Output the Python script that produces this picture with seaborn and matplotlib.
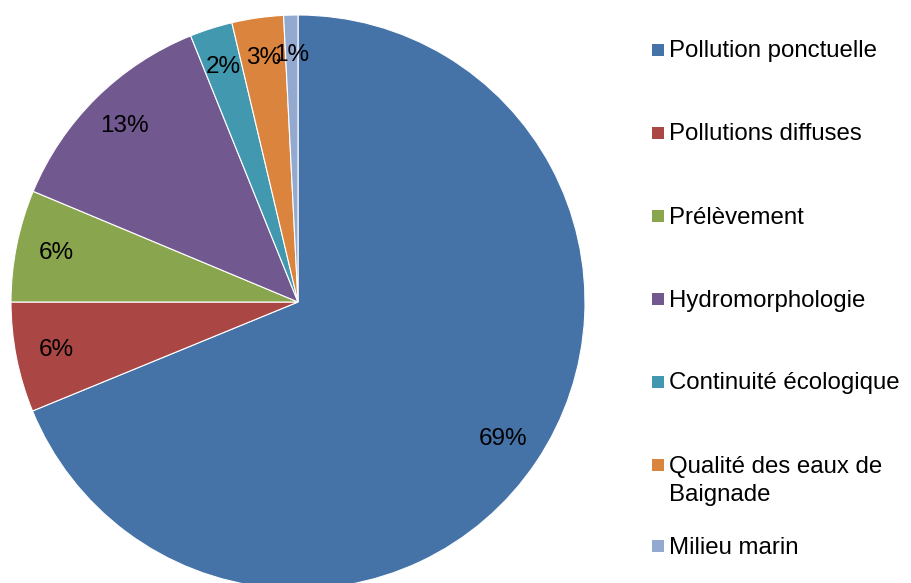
import matplotlib
matplotlib.use("Agg")
import matplotlib.pyplot as plt
import seaborn as sns
from matplotlib.patches import Rectangle

categories = ["Pollution ponctuelle", "Pollutions diffuses", "Prélèvement",
              "Hydromorphologie", "Continuité écologique",
              "Qualité des eaux de\nBaignade", "Milieu marin"]
shares = [68.8, 6.2, 6.3, 12.6, 2.4, 2.9, 0.8]
colors = ["#4572A7", "#AA4643", "#89A54E", "#71588F", "#4198AF", "#DB843D", "#93A9CF"]

sns.set_theme(style="white")
plt.rcParams["font.family"] = ["Liberation Sans", "DejaVu Sans"]

W, H = 911, 583
fig = plt.figure(figsize=(W / 100, H / 100), dpi=100)

# pie axes: centre (298, 302) px, radius 287 px
cx, cy, r = 298, 302, 287
ax = fig.add_axes([(cx - r) / W, (H - cy - r) / H, 2 * r / W, 2 * r / H])
wedges, texts, autotexts = ax.pie(
    shares, colors=colors, startangle=90, counterclock=False,
    autopct=lambda p: f"{p:.0f}%", pctdistance=0.86, labeldistance=None,
    wedgeprops=dict(edgecolor="white", linewidth=0.8),
    textprops=dict(fontsize=17.5, color="black"))
ax.set_xlim(-1, 1)
ax.set_ylim(-1, 1)
ax.set_aspect("equal")
ax.axis("off")

# legend drawn by hand so the marker sits on the first line of each label
row_y = [50, 133, 216, 299, 382, 465, 546]
line_gap = 28
for lab, col, y in zip(categories, colors, row_y):
    fig.patches.append(Rectangle(((652) / W, (H - y - 6) / H), 12 / W, 12 / H,
                                 transform=fig.transFigure, facecolor=col,
                                 edgecolor="none"))
    for k, line in enumerate(lab.split("\n")):
        fig.text(669 / W, (H - (y + 7.5 + k * line_gap)) / H, line,
                 fontsize=17.3, color="black", va="baseline", ha="left")

fig.savefig("out.png", dpi=100, facecolor="white")
